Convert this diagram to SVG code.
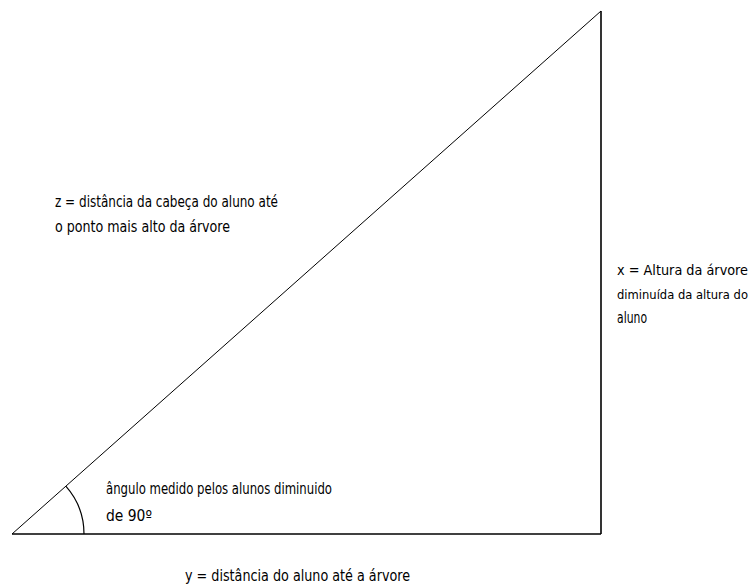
<svg xmlns="http://www.w3.org/2000/svg" width="755" height="587" viewBox="0 0 755 587">
<style>
  .lbl { font-family: "Liberation Sans Narrow", "DejaVu Sans Condensed", "Liberation Sans", sans-serif; font-size: 16px; fill: #000; }
  .sm { font-size: 14px; }
  .xs { font-size: 13px; }
  .side { stroke: #000; fill: none; }
</style>
<rect width="755" height="587" fill="#fff"/>
<g id="triangle">
  <line class="side" x1="12" y1="534" x2="601" y2="534" stroke-width="1.6"/>
  <line class="side" x1="601" y1="534" x2="601" y2="11" stroke-width="1.6"/>
  <line class="side" x1="12" y1="534" x2="601" y2="11" stroke-width="1"/>
  <path class="side" d="M 65.8 486.2 A 72 72 0 0 1 84 534" stroke-width="1.2"/>
</g>
<g id="label-z">
  <text class="lbl" x="55" y="207" textLength="223" lengthAdjust="spacingAndGlyphs">z = distância da cabeça do aluno até</text>
  <text class="lbl" x="55" y="232" textLength="175" lengthAdjust="spacingAndGlyphs">o ponto mais alto da árvore</text>
</g>
<g id="label-x">
  <text class="lbl sm" x="617" y="275" textLength="131" lengthAdjust="spacingAndGlyphs">x = Altura da árvore</text>
  <text class="lbl xs" x="617" y="299" textLength="131" lengthAdjust="spacingAndGlyphs">diminuída da altura do</text>
  <text class="lbl" x="617" y="323" textLength="30" lengthAdjust="spacingAndGlyphs">aluno</text>
</g>
<g id="label-angle">
  <text class="lbl" x="106" y="494" textLength="226" lengthAdjust="spacingAndGlyphs">ângulo medido pelos alunos diminuido</text>
  <text class="lbl" x="106" y="521" textLength="46" lengthAdjust="spacingAndGlyphs">de 90º</text>
</g>
<g id="label-y">
  <text class="lbl" x="185" y="581" textLength="225" lengthAdjust="spacingAndGlyphs">y = distância do aluno até a árvore</text>
</g>
</svg>
